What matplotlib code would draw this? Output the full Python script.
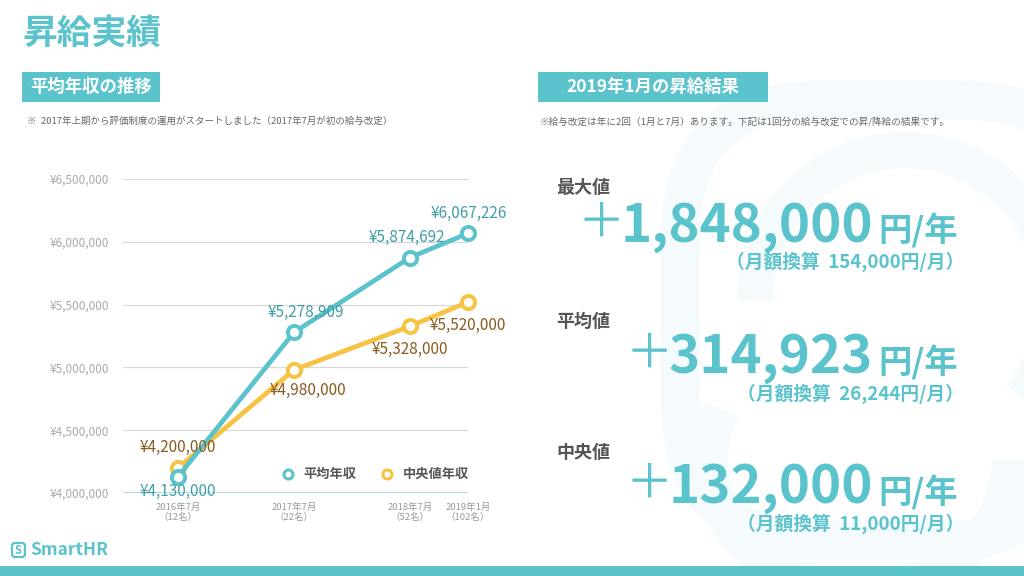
import matplotlib
matplotlib.use("Agg")
import matplotlib.pyplot as plt
from matplotlib.lines import Line2D
from matplotlib.patches import Rectangle, FancyBboxPatch, Arc

plt.rcParams['font.family'] = ['Noto Sans CJK JP', 'DejaVu Sans']

# ---- Data ----
periods = [0, 1, 2, 2.5]  # years since 2016-07
period_labels = ["2016年7月\n（12名）", "2017年7月\n（22名）", "2018年7月\n（52名）", "2019年1月\n（102名）"]
avg_income = [4130000, 5278909, 5874692, 6067226]
median_income = [4200000, 4980000, 5328000, 5520000]
y_ticks = [4000000, 4500000, 5000000, 5500000, 6000000, 6500000]

results_labels = ["最大値", "平均値", "中央値"]
results_yearly = ["1,848,000", "314,923", "132,000"]
results_monthly = ["154,000", "26,244", "11,000"]

TEAL = "#5bc3cc"
YELLOW = "#f6c342"
TEAL_TXT = "#3f9ea6"
BROWN_TXT = "#8a5b1e"
FAINT = "#f5fbfc"

W, H = 1024, 576
fig = plt.figure(figsize=(W / 100, H / 100), dpi=100)
fig.patch.set_facecolor("white")


def fx(x):
    return x / W


def fy(y):
    return 1 - y / H


# faint watermark logo on the right
bg = fig.add_axes([0, 0, 1, 1])
bg.set_xlim(0, W)
bg.set_ylim(H, 0)
bg.axis("off")
bg.add_patch(FancyBboxPatch((680, 100), 420, 440, boxstyle="round,pad=0,rounding_size=140",
                            fill=False, ec=FAINT, lw=28))
bg.add_patch(Arc((905, 300), 300, 300, theta1=180, theta2=40, ec=FAINT, lw=26))
bg.add_patch(Arc((860, 460), 300, 260, theta1=0, theta2=200, ec=FAINT, lw=26))
# bottom band
bg.add_patch(Rectangle((0, 566), W, 10, color=TEAL, lw=0))
# header boxes
bg.add_patch(Rectangle((22, 72), 138, 30, color=TEAL, lw=0))
bg.add_patch(Rectangle((538, 72), 230, 30, color=TEAL, lw=0))
# logo square
bg.add_patch(FancyBboxPatch((12, 543), 13, 14, boxstyle="round,pad=0,rounding_size=3",
                            fill=False, ec=TEAL, lw=1.6))

fig.text(fx(22), fy(33), "昇給実績", fontsize=25, color=TEAL, fontweight="bold", va="center")
fig.text(fx(91), fy(87), "平均年収の推移", fontsize=12.5, color="white", fontweight="bold",
         va="center", ha="center")
fig.text(fx(653), fy(87), "2019年1月の昇給結果", fontsize=12.5, color="white", fontweight="bold",
         va="center", ha="center")
fig.text(fx(27), fy(121), "※  2017年上期から評価制度の運用がスタートしました（2017年7月が初の給与改定）",
         fontsize=6.8, color="#666666", va="center")
fig.text(fx(540), fy(122), "※給与改定は年に2回（1月と7月）あります。下記は1回分の給与改定での昇/降給の結果です。",
         fontsize=6.9, color="#666666", va="center")

# logo
fig.text(fx(18.5), fy(550), "S", fontsize=8, color=TEAL, fontweight="bold", va="center", ha="center")
fig.text(fx(30), fy(550), "SmartHR", fontsize=12.5, color=TEAL, fontweight="bold", va="center")

# ---- Line chart ----
ax = fig.add_axes([fx(123), fy(493), fx(468) - fx(123), fy(179) - fy(493)])
ax.set_xlim(-0.474, 2.5)
ax.set_ylim(4000000, 6500000)
ax.patch.set_alpha(0)
for s in ax.spines.values():
    s.set_visible(False)
for t in y_ticks[1:]:
    ax.axhline(t, color="#d9d9d9", lw=0.9, zorder=0)
ax.axhline(y_ticks[0], color="#9fd8dd", lw=1.2, zorder=0)
ax.set_yticks(y_ticks)
ax.set_yticklabels([f"¥{v:,}" for v in y_ticks])
ax.tick_params(axis="y", length=0, pad=10, labelsize=8.5, labelcolor="#aaaaaa")
ax.set_xticks(periods)
ax.set_xticklabels(period_labels)
ax.tick_params(axis="x", length=0, pad=7, labelsize=6.8, labelcolor="#999999")

ax.plot(periods, median_income, color=YELLOW, lw=3.4, marker="o", ms=9.5, mfc="white",
        mec=YELLOW, mew=2.8, clip_on=False, zorder=3)
ax.plot(periods, avg_income, color=TEAL, lw=3.4, marker="o", ms=9.5, mfc="white",
        mec=TEAL, mew=2.8, clip_on=False, zorder=4)

avg_offsets = [(0, -11), (8.6, 14.4), (-2, 14.4), (0.7, 14.4)]
med_offsets = [(0, 14.4), (10, -15), (0, -16.5), (0, -16.5)]
for x, v, off in zip(periods, avg_income, avg_offsets):
    ax.annotate(f"¥{v:,}", (x, v), xytext=off, textcoords="offset points", ha="center",
                va="center", fontsize=11, color=TEAL_TXT, zorder=6, annotation_clip=False)
for x, v, off in zip(periods, median_income, med_offsets):
    ax.annotate(f"¥{v:,}", (x, v), xytext=off, textcoords="offset points", ha="center",
                va="center", fontsize=11, color=BROWN_TXT, zorder=6, annotation_clip=False)

handles = [
    Line2D([], [], ls="none", marker="o", ms=6.5, mfc="white", mec=TEAL, mew=2.2, label="平均年収"),
    Line2D([], [], ls="none", marker="o", ms=6.5, mfc="white", mec=YELLOW, mew=2.2, label="中央値年収"),
]
leg = ax.legend(handles=handles, loc="center", bbox_to_anchor=(0.73, 0.06), ncol=2, frameon=False,
                fontsize=9.5, handlelength=1.0, handletextpad=0.7, columnspacing=1.8)
for t in leg.get_texts():
    t.set_color("#555555")
    t.set_fontweight("bold")

# ---- Right side results ----
label_y = [193, 327, 458]
number_y = [242, 373, 503]
sub_y = [268, 400, 530]
for lab, num, mon, ly, ny, sy in zip(results_labels, results_yearly, results_monthly,
                                       label_y, number_y, sub_y):
    fig.text(fx(556), fy(ly), lab, fontsize=13, color="#555555", fontweight="bold", va="baseline")
    nt = fig.text(fx(873), fy(ny), num, fontsize=38, color=TEAL, fontweight="bold", va="baseline",
                  ha="right")
    fig.text(fx(878), fy(ny), "円/年", fontsize=24, color=TEAL, fontweight="bold", va="baseline")
    fig.text(fx(964), fy(sy), f"（月額換算  {mon}円/月）", fontsize=13.5, color=TEAL,
             fontweight="bold", va="baseline", ha="right")
    # thin full-width plus sign placed just left of the number
    fig.add_artist(plt.Annotation("＋", xy=(0, 0.57), xycoords=nt, xytext=(3, 0),
                                  textcoords="offset points", ha="right", va="center",
                                  fontsize=34, color=TEAL))

fig.savefig("out.png", dpi=100)
